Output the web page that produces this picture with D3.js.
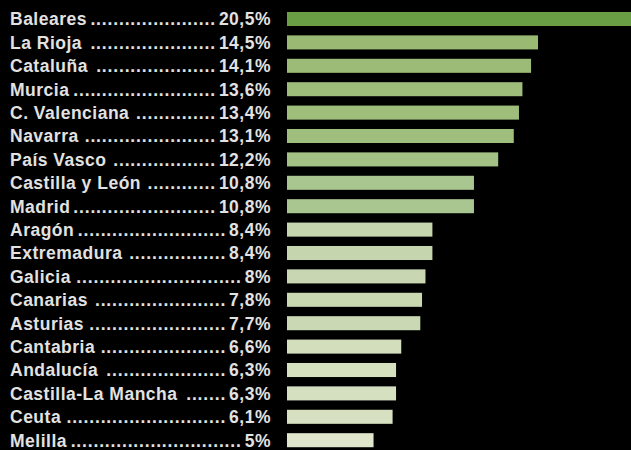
<!DOCTYPE html>
<html><head><meta charset="utf-8">
<script src="https://cdn.jsdelivr.net/npm/d3@7"></script>
<style>html,body{margin:0;padding:0;background:#000;overflow:hidden}</style>
</head><body>
<script>
const regions = ["Baleares","La Rioja","Cataluña","Murcia","C. Valenciana","Navarra","País Vasco","Castilla y León","Madrid","Aragón","Extremadura","Galicia","Canarias","Asturias","Cantabria","Andalucía","Castilla-La Mancha","Ceuta","Melilla"];
const values = [20.5,14.5,14.1,13.6,13.4,13.1,12.2,10.8,10.8,8.4,8.4,8,7.8,7.7,6.6,6.3,6.3,6.1,5];

const W = 631, H = 450;
const svg = d3.select("body").append("svg").attr("width", W).attr("height", H).style("display","block");
svg.append("rect").attr("width", W).attr("height", H).attr("fill", "#000");

const y = d3.scaleBand().domain(regions).range([7.3, 451.9]).paddingInner(0.4).paddingOuter(0.2);
const x = d3.scaleLinear().domain([0, 14.5]).range([287, 538]);
const color = d3.scaleLinear().domain([5, 8.4, 10.8, 14.5, 20.5])
  .range(["#dfe6cb", "#c5d5ad", "#aac690", "#9aba74", "#6a9e44"]);

svg.selectAll("rect.bar").data(regions).join("rect").attr("class","bar")
  .attr("x", x(0)).attr("y", d => y(d))
  .attr("width", (d,i) => x(values[i]) - x(0))
  .attr("height", y.bandwidth())
  .attr("fill", (d,i) => color(values[i]));

const fmt = v => String(v).replace(".", ",") + "%";
const font = "'Liberation Sans', Arial, sans-serif";
const g = svg.append("g").attr("font-family", font).attr("font-weight", "bold")
  .attr("font-size", 17.5).attr("fill", "#e2e2e2").attr("letter-spacing", "0.5px");

regions.forEach((r, i) => {
  const cy = y(r) + y.bandwidth() / 2 + 6.3;
  const name = g.append("text").attr("x", 10).attr("y", cy).text(r);
  const pct = g.append("text").attr("x", 271).attr("y", cy).attr("text-anchor", "end").text(fmt(values[i]));
  const nEnd = 10 + name.node().getComputedTextLength();
  const pStart = 271 - pct.node().getComputedTextLength();
  const start = nEnd + 3, end = pStart - 3;
  const step = 5.7;
  const n = Math.max(0, Math.floor((end - start) / step));
  g.append("text").attr("x", end).attr("y", cy).attr("text-anchor", "end")
    .attr("letter-spacing", (step - 4.86) + "px").text(".".repeat(n));
});
</script>
</body></html>
